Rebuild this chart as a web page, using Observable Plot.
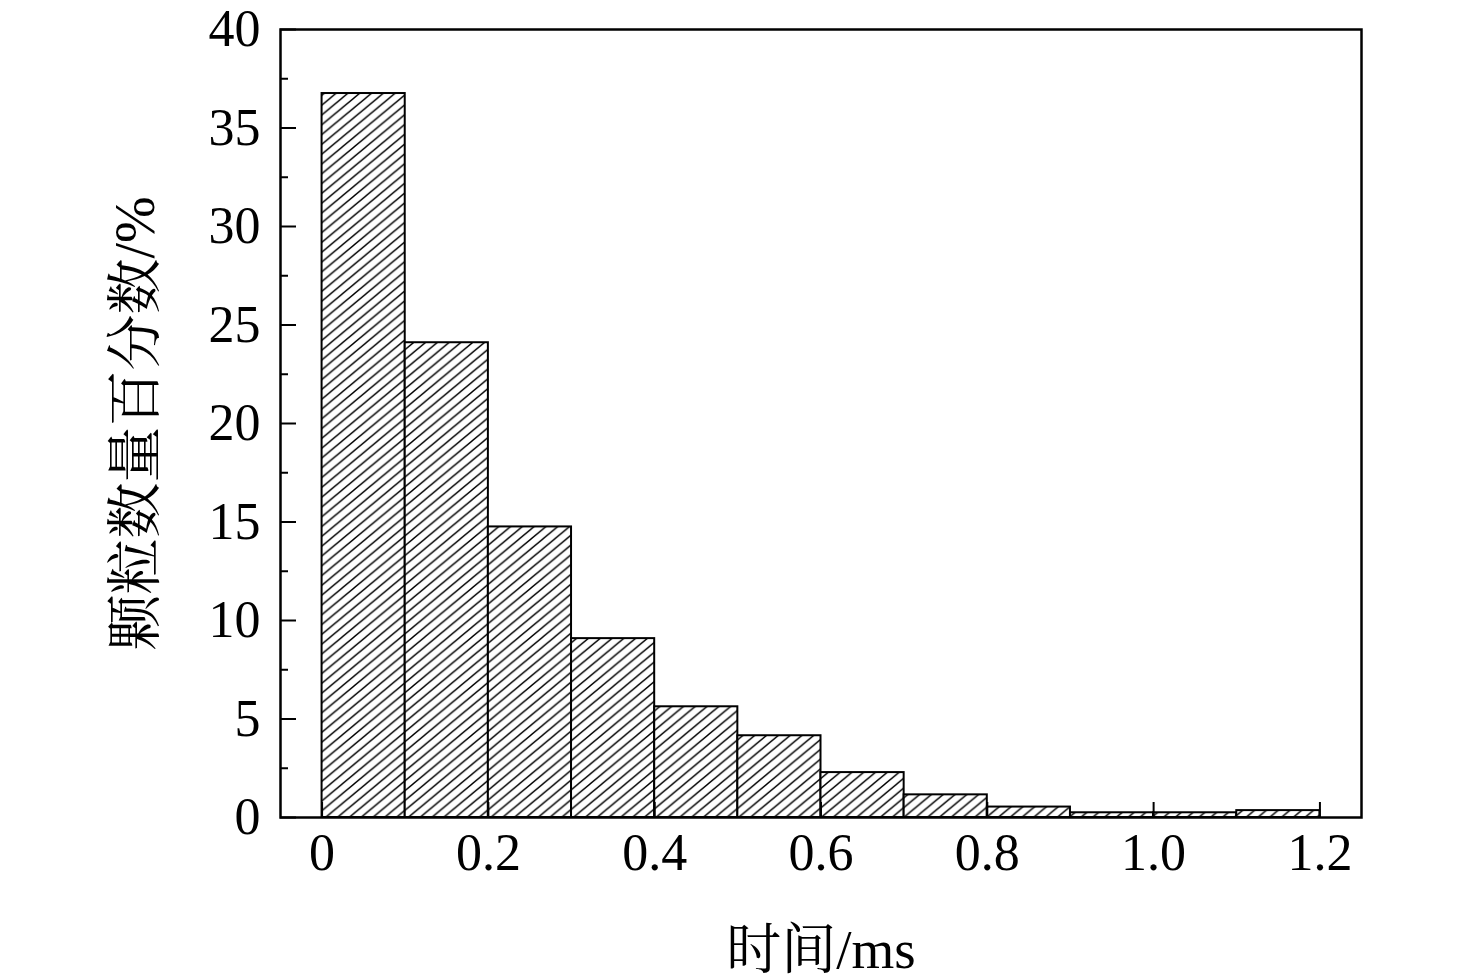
<!DOCTYPE html>
<html>
<head>
<meta charset="utf-8">
<script src="https://cdn.jsdelivr.net/npm/d3@7"></script>
<script src="https://cdn.jsdelivr.net/npm/@observablehq/plot@0.6"></script>
<style>
  html, body { margin: 0; padding: 0; background: #fff; }
  #chart { width: 1476px; height: 978px; }
</style>
</head>
<body>
<div id="chart"></div>
<script>
// Bin edges (ms) and particle percentage per bin
const binStart = [0, 0.1, 0.2, 0.3, 0.4, 0.5, 0.6, 0.7, 0.8, 0.9, 1.0, 1.1];
const binEnd   = [0.1, 0.2, 0.3, 0.4, 0.5, 0.6, 0.7, 0.8, 0.9, 1.0, 1.1, 1.2];
const percent  = [36.75, 24.1, 14.75, 9.08, 5.62, 4.15, 2.28, 1.15, 0.53, 0.24, 0.24, 0.35];
const xTicks = [0, 0.2, 0.4, 0.6, 0.8, 1.0, 1.2];
const xTickLabels = ["0", "0.2", "0.4", "0.6", "0.8", "1.0", "1.2"];
const yTicks = [0, 5, 10, 15, 20, 25, 30, 35, 40];
const yMinorTicks = [2.5, 7.5, 12.5, 17.5, 22.5, 27.5, 32.5, 37.5];
const xLabel = "时间/ms";
const yLabel = "颗粒数量百分数/%";

const bins = binStart.map((s, i) => ({x1: s, x2: binEnd[i], y: percent[i]}));

const font = '"Liberation Serif", "Times New Roman", "Noto Serif CJK SC", "Noto Sans CJK SC", serif';

const chart = Plot.plot({
  width: 1476,
  height: 978,
  marginLeft: 280,
  marginRight: 115,
  marginTop: 29,
  marginBottom: 161,
  style: {fontFamily: font, fontSize: "52px", color: "#000", background: "#fff", overflow: "visible"},
  x: {domain: [-0.05, 1.25]},
  y: {domain: [0, 40]},
  marks: [
    Plot.rectY(bins, {x1: "x1", x2: "x2", y: "y", fill: "url(#hatch)", stroke: "#000", strokeWidth: 2}),
    Plot.axisY(yTicks, {tickSize: -16, strokeWidth: 2, text: null, label: null}),
    Plot.axisY(yMinorTicks, {tickSize: -8, strokeWidth: 2, text: null, label: null}),
    Plot.axisY(yTicks, {tickSize: 0, tickPadding: 20, fontSize: 52, label: null}),
    Plot.axisY(yTicks, {tickSize: 0, text: null, fontSize: 56, label: yLabel, labelAnchor: "center", labelArrow: "none", labelOffset: 166}),
    Plot.axisX(xTicks, {tickSize: -15, strokeWidth: 2, text: null, label: null}),
    Plot.axisX(xTicks, {tickSize: 0, tickPadding: 16, fontSize: 52, tickFormat: (d, i) => xTickLabels[i], label: null}),
    Plot.axisX(xTicks, {tickSize: 0, text: null, fontSize: 55, label: xLabel, labelAnchor: "center", labelArrow: "none", labelOffset: 150}),
    Plot.frame({stroke: "#000", strokeWidth: 2.5})
  ]
});

const svg = d3.select(chart);
const defs = svg.insert("defs", ":first-child");
const w = 11.8, h = 9.8;
const seg = (dx) => `M${dx - w/4},${h*5/4} L${dx + w*5/4},${-h/4}`;
const pat = defs.append("pattern")
  .attr("id", "hatch")
  .attr("patternUnits", "userSpaceOnUse")
  .attr("width", w)
  .attr("height", h);
pat.append("rect").attr("width", w).attr("height", h).attr("fill", "#fff");
pat.append("path")
  .attr("d", seg(0) + " " + seg(w) + " " + seg(-w))
  .attr("stroke", "#000")
  .attr("stroke-width", 1.4);

document.getElementById("chart").appendChild(chart);
</script>
</body>
</html>
